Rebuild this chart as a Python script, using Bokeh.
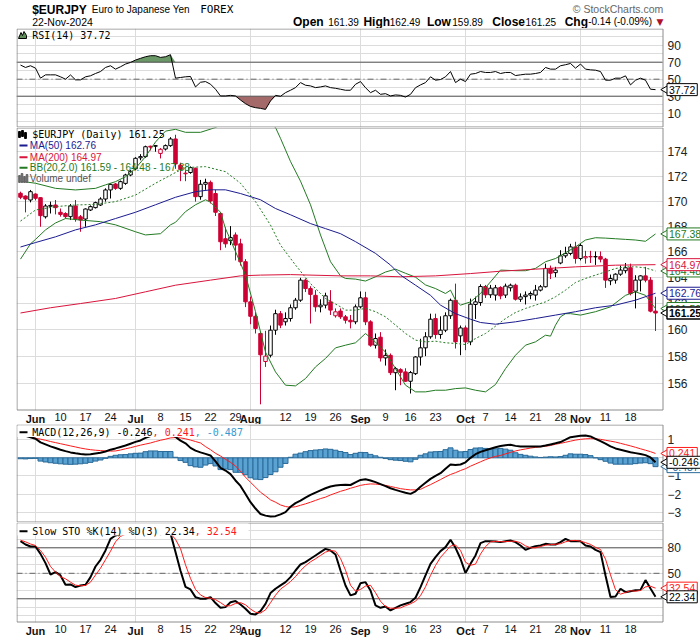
import numpy as np
import pandas as pd
from bokeh.plotting import figure
from bokeh.layouts import column
from bokeh.models import Range1d, LinearScale, FixedTicker, LinearAxis, PrintfTickFormatter
from bokeh.embed import file_html
from bokeh.resources import INLINE
from bokeh.core.properties import value

# ---------------- data ----------------
dates = pd.bdate_range("2024-05-29", "2024-11-22")   # 128 trading days
xi = np.arange(len(dates))

opens = [170.62, 170.40, 170.08, 170.56, 170.27, 168.74, 169.58, 169.68, 169.10, 169.00,
         168.75, 169.60, 168.74, 168.56, 169.28, 169.47, 169.68, 170.16, 170.89, 171.37,
         171.02, 171.42, 172.10, 172.60, 173.50, 173.60, 174.45, 174.45, 173.86, 174.22,
         174.50, 175.05, 172.90, 172.20, 172.30, 172.65, 170.35, 171.35, 171.50, 170.60,
         169.00, 167.00, 166.85, 167.30, 166.60, 165.20, 162.10, 161.00, 159.70, 157.60,
         158.07, 159.95, 161.20, 160.58, 160.83, 161.65, 162.23, 163.77, 163.12, 162.60,
         161.72, 161.85, 162.10, 161.04, 161.40, 160.96, 160.70, 160.58, 161.72, 162.41,
         160.58, 158.82, 159.42, 157.87, 158.06, 156.77, 157.00, 156.83, 156.14, 156.70,
         157.94, 158.62, 159.45, 160.83, 159.62, 159.95, 161.04, 162.22, 159.52, 160.12,
         159.07, 161.90, 162.05, 163.28, 162.64, 162.62, 163.20, 162.62, 163.18, 163.38,
         162.30, 162.50, 162.62, 162.62, 163.00, 163.26, 164.68, 164.35, 165.10, 165.66,
         165.84, 166.36, 165.45, 165.50, 165.60, 165.58, 165.60, 165.40, 163.72, 163.77,
         164.23, 164.50, 164.73, 162.92, 163.77, 164.10, 163.77, 161.39]
highs = [170.75, 170.45, 170.89, 170.62, 170.30, 169.75, 169.95, 170.08, 169.40, 169.10,
         169.76, 170.08, 168.88, 169.41, 169.65, 169.95, 170.30, 171.02, 171.42, 171.45,
         171.65, 172.20, 172.50, 173.55, 173.80, 174.50, 174.50, 174.55, 174.30, 174.60,
         175.20, 175.40, 173.10, 172.50, 172.80, 172.70, 171.70, 171.80, 171.65, 170.90,
         169.10, 167.90, 168.00, 167.50, 167.00, 165.40, 162.50, 161.30, 159.80, 159.90,
         160.30, 161.50, 161.40, 161.30, 161.90, 162.40, 163.95, 163.90, 163.30, 163.00,
         162.30, 162.80, 163.00, 161.60, 161.60, 161.10, 161.10, 161.90, 162.90, 162.87,
         160.70, 159.70, 159.80, 158.50, 158.20, 157.20, 157.10, 157.10, 156.90, 158.00,
         159.30, 159.80, 161.20, 161.20, 161.00, 161.30, 162.35, 163.50, 160.30, 160.30,
         162.35, 162.50, 163.45, 163.40, 163.40, 163.40, 163.30, 163.50, 163.50, 163.50,
         162.75, 162.90, 162.90, 163.40, 163.40, 165.05, 164.90, 164.80, 166.10, 166.37,
         166.60, 166.76, 166.63, 166.05, 166.05, 166.00, 166.00, 165.50, 164.20, 164.30,
         164.90, 165.10, 165.05, 164.15, 164.15, 164.80, 164.00, 162.49]
lows = [170.15, 169.09, 169.89, 170.05, 167.95, 168.60, 169.00, 168.93, 168.75, 168.60,
        168.48, 168.35, 167.55, 167.95, 169.20, 169.40, 169.60, 169.95, 170.20, 170.90,
        170.90, 171.30, 172.00, 172.50, 173.30, 173.50, 174.10, 174.00, 173.45, 174.10,
        174.40, 172.60, 171.60, 171.60, 172.20, 169.95, 170.10, 170.90, 169.80, 168.80,
        166.10, 166.30, 166.50, 165.30, 164.90, 161.70, 160.40, 159.70, 154.45, 157.20,
        157.90, 159.60, 160.10, 160.30, 160.60, 161.50, 162.10, 162.85, 160.45, 161.35,
        161.30, 161.60, 161.10, 160.90, 160.80, 160.45, 160.08, 160.40, 161.60, 160.33,
        158.70, 158.57, 157.60, 157.30, 156.60, 155.48, 155.85, 156.10, 155.24, 156.60,
        157.30, 158.00, 159.30, 159.30, 159.30, 159.80, 160.80, 158.57, 158.07, 158.45,
        158.82, 160.80, 161.80, 162.40, 162.40, 162.20, 162.30, 162.40, 162.90, 162.20,
        162.10, 161.90, 162.30, 162.20, 162.90, 163.20, 163.85, 164.00, 165.00, 165.50,
        165.70, 165.05, 165.30, 165.05, 165.10, 164.95, 165.15, 163.17, 163.38, 163.50,
        164.10, 164.30, 162.60, 161.60, 162.90, 163.60, 161.30, 159.89]
closes = [170.30, 170.16, 170.75, 170.22, 168.83, 169.60, 169.65, 169.47, 168.93, 168.75,
          169.60, 168.56, 168.48, 169.36, 169.55, 169.87, 170.16, 170.89, 171.34, 171.02,
          171.56, 172.10, 172.40, 173.46, 173.60, 174.41, 174.38, 174.50, 174.20, 174.50,
          175.05, 173.00, 172.55, 172.25, 172.70, 170.35, 171.35, 171.50, 170.00, 169.10,
          166.76, 166.60, 167.10, 166.50, 165.20, 162.10, 161.00, 160.08, 158.10, 158.00,
          159.95, 161.20, 160.33, 160.83, 161.65, 162.23, 163.77, 163.12, 162.67, 161.72,
          161.85, 162.56, 161.47, 161.34, 160.96, 160.70, 160.58, 161.72, 162.41, 160.58,
          158.82, 159.32, 157.87, 158.06, 156.77, 157.07, 156.80, 156.14, 156.78, 157.94,
          158.62, 159.45, 160.78, 159.62, 159.95, 161.04, 162.22, 159.07, 160.12, 159.07,
          161.92, 162.10, 163.28, 162.64, 163.15, 163.18, 162.56, 163.31, 163.38, 162.30,
          162.48, 162.62, 162.74, 163.00, 163.26, 164.68, 164.30, 164.55, 165.66, 165.84,
          166.36, 165.45, 166.47, 165.60, 165.58, 165.60, 165.40, 163.77, 163.90, 164.23,
          164.55, 164.73, 162.74, 163.77, 164.10, 163.77, 161.39, 161.25]

ma50_idx = [0, 3, 7, 11, 15, 19, 23, 27, 31, 35, 38, 41, 44, 48, 51, 54, 58, 61, 64, 67,
            71, 74, 76, 79, 82, 84, 87, 90, 92, 95, 99, 103, 107, 111, 115, 119, 123, 127]
ma50 = [166.35, 166.7, 167.15, 167.7, 168.1, 168.6, 169.1, 169.7, 170.3, 170.75,
        170.9, 170.9, 170.6, 170.1, 169.4, 168.9, 168.2, 167.8, 167.4, 166.77,
        165.85, 164.94, 164.16, 163.38, 162.6, 161.85, 161.2, 160.78, 160.53, 160.4,
        160.58, 160.83, 161.09, 161.35, 161.65, 161.85, 162.23, 162.76]
ma200_idx = [0, 6, 12, 19, 25, 31, 38, 44, 48, 54, 64, 70, 76, 83, 90, 96, 103, 111, 119, 127]
ma200 = [161.25, 161.65, 161.97, 162.36, 162.87, 163.38, 163.77, 164.1, 164.16, 164.2,
         164.1, 164.1, 164.03, 164.1, 164.28, 164.46, 164.62, 164.8, 164.93, 164.97]

bb_up_idx = [0, 3, 7, 11, 15, 17, 19, 21, 23, 25, 27, 29, 31, 33, 36, 39, 42, 45, 48, 51,
             52, 54, 56, 58, 60, 62, 64, 65, 67, 69, 71, 73, 75, 77, 79, 81, 83, 85, 86, 87,
             88, 90, 92, 94, 96, 99, 101, 103, 105, 107, 109, 111, 113, 115, 117, 119, 121, 123, 125, 127]
bb_up = [171.6, 171.43, 171.02, 170.89, 171.02, 171.3, 171.56, 171.96, 172.64, 173.6,
         174.8, 175.7, 175.85, 175.6, 175.6, 176.0, 176.6, 177.0, 176.8, 176.0,
         175.1, 173.2, 171.6, 169.7, 167.3, 165.2, 164.1, 163.9, 163.85, 163.7,
         164.03, 164.4, 164.62, 164.3, 164.0, 163.4, 163.12, 162.74, 163.0, 162.23,
         161.85, 162.1, 162.74, 163.64, 164.55, 164.5, 164.5, 164.68, 165.2, 165.45,
         165.9, 166.36, 166.9, 167.08, 167.05, 167.0, 166.95, 166.9, 166.8, 167.38]
bb_mid_idx = [0, 3, 7, 11, 15, 19, 23, 27, 31, 33, 37, 41, 44, 47, 50, 52, 55, 58, 61, 64,
              65, 67, 69, 71, 73, 75, 77, 79, 81, 83, 85, 87, 89, 91, 93, 95, 97, 99, 101, 103,
              105, 107, 109, 111, 113, 115, 117, 119, 121, 123, 125, 127]
bb_mid = [168.4, 169.28, 169.55, 169.68, 169.73, 169.95, 170.48, 171.43, 172.3, 172.7,
          172.78, 172.37, 171.43, 169.95, 168.08, 166.5, 164.94, 163.5, 162.36, 161.72,
          161.47, 161.47, 161.6, 161.35, 160.96, 160.33, 159.7, 159.2, 159.07, 159.12,
          159.0, 158.95, 158.87, 159.32, 159.7, 160.25, 160.83, 161.29, 161.6, 161.85,
          162.1, 162.49, 163.0, 163.59, 163.9, 164.16, 164.41, 164.67, 164.8, 164.8,
          164.72, 164.48]
bb_lo_idx = [0, 2, 3, 5, 7, 9, 12, 16, 19, 23, 25, 28, 30, 31, 33, 35, 37, 38, 40, 41,
             43, 45, 47, 49, 51, 53, 55, 57, 59, 61, 63, 65, 67, 69, 71, 73, 75, 77, 79, 81,
             83, 85, 87, 89, 91, 93, 95, 97, 99, 101, 103, 105, 106, 107, 108, 109, 110, 112, 115, 118,
             121, 123, 125, 127]
bb_lo = [165.4, 166.6, 166.95, 167.7, 168.25, 168.6, 168.48, 168.35, 168.1, 167.55,
         167.3, 167.4, 168.1, 168.3, 169.15, 169.7, 170.1, 169.9, 169.1, 167.8,
         166.0, 164.16, 161.35, 158.3, 156.83, 155.85, 155.8, 156.34, 157.2, 157.83,
         158.62, 158.82, 159.0, 159.7, 159.05, 158.3, 157.07, 155.85, 155.36, 155.36,
         155.48, 155.48, 155.6, 155.65, 155.48, 155.36, 155.9, 157.07, 158.07, 158.82,
         159.07, 159.57, 159.5, 160.33, 160.96, 161.2, 161.2, 161.09, 161.35, 161.72,
         162.6, 162.87, 162.6, 161.59]

rsi = [66.6, 63.8, 65.8, 63.0, 51.2, 55.1, 55.1, 55.1, 52.8, 50.0,
       55.0, 49.2, 49.2, 52.8, 54.0, 56.7, 59.0, 63.8, 65.8, 61.8,
       64.6, 67.8, 69.7, 72.5, 74.5, 76.4, 77.6, 77.6, 75.6, 76.4,
       78.8, 51.2, 52.0, 52.8, 53.2, 40.9, 46.4, 47.2, 44.1, 38.2,
       30.3, 30.3, 31.0, 30.3, 25.5, 21.2, 18.0, 16.5, 15.7, 14.5,
       24.4, 31.0, 29.9, 34.2, 37.0, 40.1, 46.0, 42.9, 42.1, 40.1,
       40.9, 42.1, 40.1, 39.3, 38.2, 37.0, 37.0, 44.0, 47.2, 40.0,
       34.2, 37.0, 32.2, 33.0, 30.3, 31.5, 31.0, 29.0, 32.2, 40.0,
       43.3, 46.0, 52.8, 48.8, 49.6, 52.8, 59.0, 46.0, 50.0, 47.2,
       55.9, 56.7, 59.0, 57.9, 57.9, 59.0, 56.7, 57.9, 57.9, 54.3,
       55.1, 55.9, 55.9, 56.7, 57.9, 63.8, 61.8, 61.8, 65.8, 67.0,
       68.5, 63.0, 67.8, 61.8, 61.0, 60.6, 59.0, 48.8, 48.8, 51.2,
       51.2, 53.9, 43.3, 48.8, 51.2, 48.8, 38.2, 37.72]

macd = [1.30, 1.22, 1.14, 1.05, 0.85, 0.74, 0.63, 0.54, 0.45, 0.37,
        0.30, 0.25, 0.21, 0.19, 0.20, 0.24, 0.28, 0.35, 0.45, 0.52,
        0.60, 0.68, 0.78, 0.88, 0.96, 1.10, 1.20, 1.28, 1.32, 1.38,
        1.45, 1.15, 0.95, 0.80, 0.55, 0.40, 0.30, 0.22, 0.13, -0.20,
        -0.55, -0.70, -0.90, -1.25, -1.55, -2.00, -2.45, -2.80, -3.10, -3.19,
        -3.24, -3.22, -3.12, -3.00, -2.70, -2.50, -2.36, -2.20, -2.05, -1.92,
        -1.80, -1.68, -1.58, -1.53, -1.50, -1.48, -1.50, -1.35, -1.22, -1.18,
        -1.25, -1.34, -1.45, -1.56, -1.68, -1.77, -1.85, -1.93, -1.99, -1.85,
        -1.60, -1.38, -1.16, -1.00, -0.85, -0.60, -0.37, -0.40, -0.37, -0.25,
        0.00, 0.20, 0.33, 0.42, 0.50, 0.58, 0.65, 0.70, 0.72, 0.66,
        0.63, 0.63, 0.63, 0.63, 0.63, 0.68, 0.74, 0.80, 0.87, 1.00,
        1.14, 1.18, 1.22, 1.23, 1.18, 1.05, 0.92, 0.78, 0.63, 0.52,
        0.45, 0.38, 0.31, 0.26, 0.21, 0.15, 0.02, -0.246]
signal = [1.35, 1.28, 1.18, 1.08, 1.03, 0.97, 0.90, 0.84, 0.78, 0.72,
          0.66, 0.60, 0.54, 0.49, 0.45, 0.42, 0.40, 0.38, 0.37, 0.38,
          0.43, 0.50, 0.56, 0.63, 0.70, 0.76, 0.82, 0.90, 0.97, 1.03,
          1.10, 1.12, 1.10, 1.05, 0.98, 0.90, 0.82, 0.62, 0.45, 0.25,
          0.10, -0.08, -0.25, -0.45, -0.75, -1.07, -1.35, -1.62, -1.90, -2.10,
          -2.32, -2.45, -2.60, -2.69, -2.73, -2.70, -2.62, -2.54, -2.45, -2.35,
          -2.25, -2.17, -2.05, -1.95, -1.85, -1.77, -1.68, -1.60, -1.52, -1.47,
          -1.44, -1.45, -1.48, -1.52, -1.58, -1.64, -1.70, -1.74, -1.77, -1.77,
          -1.74, -1.60, -1.48, -1.34, -1.20, -1.05, -0.92, -0.82, -0.70, -0.60,
          -0.46, -0.34, -0.22, -0.10, 0.00, 0.08, 0.13, 0.22, 0.30, 0.38,
          0.44, 0.49, 0.54, 0.58, 0.61, 0.64, 0.68, 0.75, 0.80, 0.86,
          0.92, 0.98, 1.02, 1.05, 1.06, 1.05, 1.02, 0.97, 0.92, 0.87,
          0.80, 0.73, 0.66, 0.58, 0.50, 0.42, 0.34, 0.241]
hist = [-0.05, -0.06, -0.04, -0.03, -0.18, -0.23, -0.27, -0.30, -0.33, -0.35,
        -0.36, -0.35, -0.33, -0.30, -0.25, -0.18, -0.12, -0.03, 0.08, 0.14,
        0.17, 0.18, 0.22, 0.25, 0.26, 0.34, 0.38, 0.38, 0.35, 0.35,
        0.35, 0.03, -0.15, -0.25, -0.43, -0.50, -0.52, -0.40, -0.32, -0.45,
        -0.65, -0.62, -0.65, -0.80, -0.80, -0.93, -1.10, -1.18, -1.20, -1.09,
        -0.92, -0.77, -0.52, -0.31, 0.03, 0.20, 0.26, 0.34, 0.40, 0.43,
        0.45, 0.49, 0.47, 0.42, 0.35, 0.29, 0.18, 0.25, 0.30, 0.29,
        0.19, 0.11, 0.03, -0.04, -0.10, -0.13, -0.15, -0.19, -0.22, -0.08,
        0.14, 0.22, 0.32, 0.34, 0.35, 0.45, 0.55, 0.42, 0.33, 0.35,
        0.46, 0.54, 0.55, 0.52, 0.50, 0.50, 0.52, 0.48, 0.42, 0.28,
        0.19, 0.14, 0.09, 0.05, 0.02, 0.04, 0.06, 0.05, 0.07, 0.14,
        0.22, 0.20, 0.20, 0.18, 0.12, 0.00, -0.10, -0.19, -0.29, -0.35,
        -0.35, -0.35, -0.35, -0.32, -0.29, -0.27, -0.32, -0.487]

sto_k = [87.8, 83.9, 81.6, 81.6, 72.9, 62.0, 48.6, 51.4, 47.5, 36.5,
         36.9, 33.7, 35.7, 36.5, 45.5, 58.0, 65.9, 76.9, 90.6, 94.5,
         96.0, 98.0, 98.0, 99.0, 99.0, 99.0, 98.0, 98.0, 96.0, 97.0,
         97.0, 75.0, 53.0, 34.0, 31.0, 22.0, 20.0, 20.0, 22.0, 15.0,
         9.4, 10.2, 16.0, 17.3, 13.3, 8.2, 2.4, 1.6, 5.5, 14.0,
         26.7, 31.8, 35.7, 39.6, 45.5, 53.3, 60.4, 63.1, 67.1, 71.0,
         74.9, 78.8, 76.9, 72.2, 53.3, 35.7, 24.0, 25.9, 38.4, 39.6,
         29.8, 12.2, 9.4, 11.0, 6.3, 9.4, 12.2, 14.1, 16.1, 21.2,
         33.7, 47.5, 61.2, 69.0, 76.1, 80.8, 89.4, 80.0, 67.1, 50.2,
         61.2, 71.0, 85.5, 87.8, 87.8, 87.5, 86.7, 87.8, 88.6, 86.7,
         82.7, 77.6, 80.0, 82.0, 82.7, 84.7, 83.9, 83.9, 86.7, 90.6,
         87.8, 87.8, 87.8, 82.7, 81.6, 77.6, 74.9, 47.5, 22.0, 22.7,
         31.8, 27.8, 29.0, 30.0, 30.5, 42.0, 32.0, 22.34]
sto_d = [89.0, 87.0, 84.5, 82.7, 76.9, 69.0, 58.0, 51.4, 46.0, 43.5,
         39.6, 36.0, 35.3, 35.7, 39.6, 48.0, 56.0, 66.0, 76.0, 87.0,
         93.5, 96.0, 97.3, 98.3, 98.7, 99.0, 98.7, 98.3, 97.3, 97.0,
         96.7, 90.0, 79.0, 60.0, 44.0, 31.0, 24.5, 21.5, 20.7, 19.0,
         15.5, 11.5, 11.9, 14.5, 15.5, 12.9, 8.0, 4.1, 3.2, 7.0,
         15.4, 24.2, 31.4, 35.7, 40.3, 46.1, 53.1, 58.9, 63.5, 67.1,
         71.0, 74.9, 76.9, 76.0, 67.5, 53.7, 36.0, 29.0, 31.0, 35.0,
         35.9, 27.2, 17.1, 10.9, 8.9, 8.9, 9.3, 11.9, 14.1, 17.1,
         23.7, 34.1, 47.5, 59.2, 68.8, 75.3, 82.1, 83.4, 77.0, 63.0,
         59.5, 60.8, 72.6, 81.4, 87.0, 87.7, 87.3, 87.3, 87.7, 87.7,
         86.0, 82.3, 80.1, 79.9, 81.6, 83.1, 83.8, 84.2, 84.8, 87.1,
         88.4, 88.7, 87.8, 86.1, 84.0, 80.6, 78.0, 66.7, 48.1, 30.7,
         25.5, 27.4, 29.5, 28.9, 29.8, 34.1, 34.8, 32.54]

month_idx = [3, 23, 46, 68, 89, 112]
month_lbl = ["Jun", "Jul", "Aug", "Sep", "Oct", "Nov"]
day_idx = [8, 13, 18, 28, 33, 38, 43, 53, 58, 63, 73, 78, 83, 93, 98, 103, 108, 117, 122]
day_lbl = ["10", "17", "24", "8", "15", "22", "29", "12", "19", "26", "9", "16", "23",
           "7", "14", "21", "28", "11", "18"]

# ---------------- styling ----------------
RED = "#cc0033"
NAVY = "#1b1b8f"
MA200C = "#d8143c"
GREEN = "#237a23"
GRID = "#dcdcdc"
FRAME = "#8c8c8c"
SANS = "Liberation Sans"
MONO = "DejaVu Sans Mono"
FW = 684            # canvas frame width in px (x 16 .. 700)
PLOT_W = 646        # visible plotting area (x 16 .. 662)
X_END = 128.4       # data x at the right edge of the plotting area
X_RANGE = Range1d(-0.8, -0.8 + FW / 5.0)
CHAR_W = {".": 0.278, "-": 0.333}


def style_xaxis(ax, bold=False):
    ax.axis_line_color = None
    ax.major_tick_line_color = None
    ax.minor_tick_line_color = None
    ax.major_tick_out = 0
    ax.major_tick_in = 0
    ax.major_label_standoff = 2
    ax.major_label_text_font = SANS
    ax.major_label_text_font_size = "11px"
    ax.major_label_text_color = "#111111"
    if bold:
        ax.major_label_text_font_style = "bold"


def make_panel(height, y0, y1, yticks, gridticks, log=False, label_h=0):
    dh = height - label_h
    if log:
        ystart = y0 * (y0 / y1) ** (label_h / dh)
    else:
        ystart = y0 - (y1 - y0) * label_h / dh
    p = figure(width=700, height=height, x_range=X_RANGE, y_range=Range1d(ystart, y1),
               y_axis_type="log" if log else "linear",
               x_axis_location="below" if label_h else None, y_axis_location="right",
               output_backend="svg", toolbar_location=None,
               min_border_left=16, min_border_right=0, min_border_top=0, min_border_bottom=0)
    p.outline_line_color = None
    p.background_fill_color = "white"
    p.border_fill_color = "white"
    p.extra_x_ranges = {"px": Range1d(0, FW)}
    p.extra_y_ranges = {"px": Range1d(height, 0)}
    p.extra_x_scales = {"px": LinearScale()}
    p.extra_y_scales = {"px": LinearScale()}
    ya = p.yaxis[0]
    ya.fixed_location = X_END
    ya.ticker = FixedTicker(ticks=yticks)
    if log:
        ya.formatter = PrintfTickFormatter(format="%d")
    ya.axis_line_color = None
    ya.major_tick_line_color = None
    ya.minor_tick_line_color = None
    ya.major_tick_out = 0
    ya.major_tick_in = 0
    ya.major_label_standoff = 5
    ya.major_label_text_font = SANS
    ya.major_label_text_font_size = "12px"
    ya.major_label_text_color = "#222222"
    p.ygrid.ticker = FixedTicker(ticks=gridticks)
    p.ygrid.grid_line_color = GRID
    p.xgrid.ticker = FixedTicker(ticks=month_idx)
    p.xgrid.grid_line_color = GRID
    if label_h:
        xa = p.xaxis[0]
        xa.fixed_location = y0
        xa.ticker = FixedTicker(ticks=day_idx)
        xa.major_label_overrides = {i: s for i, s in zip(day_idx, day_lbl)}
        style_xaxis(xa)
        ma = LinearAxis(ticker=FixedTicker(ticks=month_idx),
                        major_label_overrides={i: s for i, s in zip(month_idx, month_lbl)},
                        fixed_location=y0)
        style_xaxis(ma, bold=True)
        p.add_layout(ma, "below")
    p.tags = [height, dh]
    return p


def finish_panel(p):
    height, dh = p.tags
    # blank the strip right of the plotting area and the date-label row under it
    p.quad(left=[PLOT_W + 0.5], right=[FW], top=[0], bottom=[height], x_range_name="px",
           y_range_name="px", fill_color="white", line_color=None)
    if height > dh:
        p.quad(left=[0], right=[FW], top=[dh], bottom=[height], x_range_name="px",
               y_range_name="px", fill_color="white", line_color=None)
    p.quad(left=[0.5], right=[PLOT_W + 0.5], top=[0.5], bottom=[dh - 0.5], x_range_name="px",
           y_range_name="px", fill_color=None, line_color=FRAME, line_width=1)


def ptext(p, x, y, s, color="black", font=SANS, size="10px", style="normal", align="left"):
    p.text(x=[x], y=[y], text=[s], x_range_name="px", y_range_name="px",
           text_color=color, text_font=value(font), text_font_size=value(size),
           text_font_style=style, text_align=align, text_baseline="middle")


def tag(p, yv, s, color, bold=False):
    fs = 10.5
    w = sum(CHAR_W.get(ch, 0.556) for ch in s) * fs + 4
    x0 = PLOT_W + 3.0
    p.scatter(x=[x0 + 0.5], y=[yv], x_range_name="px", marker="triangle", angle=np.pi / 2,
              size=9, fill_color="white", line_color=color, level="overlay")
    p.rect(x=[x0 + 1.5 + w / 2], y=[yv], width=[w], height=12, height_units="screen",
           x_range_name="px", fill_color="white", line_color=color,
           line_width=1.4 if bold else 1, level="overlay")
    p.text(x=[x0 + 3.5], y=[yv], text=[s], x_range_name="px", text_color=color,
           text_font=value(SANS), text_font_size=value("%gpx" % fs),
           text_font_style="bold" if bold else "normal", text_baseline="middle",
           text_align="left", level="overlay")


# ---------------- header ----------------
hp = figure(width=700, height=28, x_range=Range1d(0, 700), y_range=Range1d(28, 0),
            output_backend="svg", toolbar_location=None, min_border=0,
            x_axis_location=None, y_axis_location=None)
hp.outline_line_color = None
hp.grid.visible = False


def htext(x, y, s, color="black", font=SANS, size="11px", style="normal", align="left"):
    hp.text(x=[x], y=[y], text=[s], text_color=color, text_font=value(font),
            text_font_size=value(size), text_font_style=style, text_align=align,
            text_baseline="middle")


htext(16, 9, "$EURJPY", size="12px", style="bold")
htext(77, 9, "Euro to Japanese Yen", size="10px")
htext(188, 9, "FOREX", font=MONO, size="11px")
htext(662, 8.5, "\u00a9 StockCharts.com", color="#666666", size="10.5px", align="right")
htext(16, 21, "22-Nov-2024", size="10.5px")
for xx, s, st in [(283, "Open", "bold"), (319, "161.39", "normal"), (355, "High", "bold"),
                  (382, "162.49", "normal"), (420, "Low", "bold"), (446, "159.89", "normal"),
                  (487, "Close", "bold"), (521, "161.25", "normal"), (561, "Chg", "bold"),
                  (585, "-0.14 (-0.09%)", "normal")]:
    htext(xx, 21, s, size="12px" if st == "bold" else "10px", style=st)
htext(655, 21, "\u25bc", color="#b0102a", size="9px", font="DejaVu Sans")

# ---------------- RSI panel ----------------
rp = make_panel(99, -6.8, 109.6, [10, 30, 50, 70, 90], list(range(0, 101, 10)))
rsi_a = np.array(rsi)
rp.varea(x=xi, y1=70, y2=np.maximum(rsi_a, 70), fill_color="#6a9866", fill_alpha=1.0)
rp.varea(x=xi, y1=30, y2=np.minimum(rsi_a, 30), fill_color="#a46a6a", fill_alpha=1.0)
for lv in (70, 30):
    rp.segment(x0=[-0.8], y0=[lv], x1=[X_END], y1=[lv], line_color="#555555", line_width=1)
rp.segment(x0=[-0.8], y0=[50], x1=[X_END], y1=[50], line_color="#666666", line_width=1,
           line_dash="6 3 1 3")
rp.line(xi, rsi_a, line_color="black", line_width=1)
finish_panel(rp)
rp.patch(x=[2, 4.5, 6, 7.5, 10, 10, 2], y=[10, 4, 7, 3, 7, 10, 10], x_range_name="px",
         y_range_name="px", fill_color="#5f8f5a", line_color="black", line_width=1)
ptext(rp, 15.7, 7, "RSI(14) 37.72", font=MONO)
tag(rp, 37.72, "37.72", "black")

# ---------------- price panel ----------------
pp = make_panel(297, 154.0, 176.0, list(range(156, 175, 2)), list(range(156, 175, 2)),
                log=True, label_h=14)
o = np.array(opens)
c = np.array(closes)
prev = np.concatenate([[np.inf], c[:-1]])
col = np.where(c < prev, RED, "black")
fill = np.where(c < o, col, "white")
pp.segment(x0=xi, y0=lows, x1=xi, y1=highs, line_color=col, line_width=1)
pp.vbar(x=xi, width=0.7, top=np.maximum(o, c), bottom=np.minimum(o, c),
        fill_color=fill, line_color=col, line_width=1)
pp.line(bb_up_idx, bb_up, line_color=GREEN, line_width=1)
pp.line(bb_lo_idx, bb_lo, line_color=GREEN, line_width=1)
pp.line(bb_mid_idx, bb_mid, line_color=GREEN, line_width=1, line_dash="2 2")
pp.line(ma200_idx, ma200, line_color=MA200C, line_width=1)
pp.line(ma50_idx, ma50, line_color=NAVY, line_width=1)
finish_panel(pp)

pp.vbar(x=[3, 6, 9], top=[4, 3, 5], bottom=[10, 9, 11], width=1.8, x_range_name="px",
        y_range_name="px", fill_color="black", line_color="black")
ptext(pp, 15.7, 7, "$EURJPY (Daily) 161.25", font=MONO)
for yy, colr, s in [(18, NAVY, "MA(50) 162.76"), (29.7, MA200C, "MA(200) 164.97"),
                    (40.3, GREEN, "BB(20,2.0) 161.59 - 164.48 - 167.38")]:
    pp.segment(x0=[3], y0=[yy], x1=[11], y1=[yy], x_range_name="px", y_range_name="px",
               line_color=colr, line_width=2)
    ptext(pp, 13.3, yy, s, color=colr)
pp.vbar(x=[3, 5.5, 8, 10.5], top=[48, 46, 49, 47], bottom=[55, 55, 55, 55], width=1.6,
        x_range_name="px", y_range_name="px", fill_color="#666666", line_color="#666666")
ptext(pp, 13.3, 51.3, "Volume undef", color="#555555")

tag(pp, 164.48, "164.48", GREEN)
tag(pp, 167.38, "167.38", GREEN)
tag(pp, 164.97, "164.97", MA200C)
tag(pp, 161.59, "161.59", GREEN)
tag(pp, 162.76, "162.76", NAVY)
tag(pp, 161.25, "161.25", "black", bold=True)

# ---------------- MACD panel ----------------
mp = make_panel(98, -3.57, 1.84, [-3, -2, -1, 0, 1], [-3, -2, -1, 0, 1])
mp.vbar(x=xi, width=1.0, top=hist, bottom=0, fill_color="#5aa2d2", line_color="#2a6a98",
        line_width=1)
mp.line(xi, signal, line_color="#ff1a1a", line_width=1)
mp.line(xi, macd, line_color="black", line_width=2)
finish_panel(mp)
mp.quad(left=[1], right=[232], top=[1], bottom=[12.5], x_range_name="px", y_range_name="px",
        fill_color="white", line_color=None)
mp.segment(x0=[3], y0=[7.7], x1=[11], y1=[7.7], x_range_name="px", y_range_name="px",
           line_color="black", line_width=2)
ptext(mp, 15.7, 7.7, "MACD(12,26,9) -0.246", font=MONO)
ptext(mp, 15.7 + 20 * 6.02, 7.7, ", 0.241", color="#ff1a1a", font=MONO)
ptext(mp, 15.7 + 27 * 6.02, 7.7, ", -0.487", color="#3a9ad0", font=MONO)
tag(mp, -0.487, "-0.487", "#2a6a98")
tag(mp, 0.241, "0.241", "#ff1a1a")
tag(mp, -0.246, "-0.246", "black")

# ---------------- Slow STO panel ----------------
sp = make_panel(117, -7.9, 109.8, [20, 50, 80], list(range(0, 101, 10)), label_h=17)
for lv in (80, 20):
    sp.segment(x0=[-0.8], y0=[lv], x1=[X_END], y1=[lv], line_color="#555555", line_width=1)
sp.segment(x0=[-0.8], y0=[50], x1=[X_END], y1=[50], line_color="#666666", line_width=1,
           line_dash="6 3 1 3")
sp.line(xi, sto_k, line_color="black", line_width=2)
sp.line(xi, sto_d, line_color="#ff1a1a", line_width=1)
finish_panel(sp)
sp.quad(left=[1], right=[232], top=[1], bottom=[13], x_range_name="px", y_range_name="px",
        fill_color="white", line_color=None)
sp.segment(x0=[3], y0=[8.7], x1=[11], y1=[8.7], x_range_name="px", y_range_name="px",
           line_color="black", line_width=2)
ptext(sp, 15.7, 8.7, "Slow STO %K(14) %D(3) 22.34", font=MONO)
ptext(sp, 15.7 + 27 * 6.02, 8.7, ", 32.54", color="#ff1a1a", font=MONO)
tag(sp, 32.54, "32.54", "#ff1a1a")
tag(sp, 22.34, "22.34", "black")

for fig in (rp, pp, mp, sp):
    fig.tags = []

layout = column(hp, rp, pp, mp, sp, spacing=0)
open("out.html", "w").write(file_html(layout, INLINE))
